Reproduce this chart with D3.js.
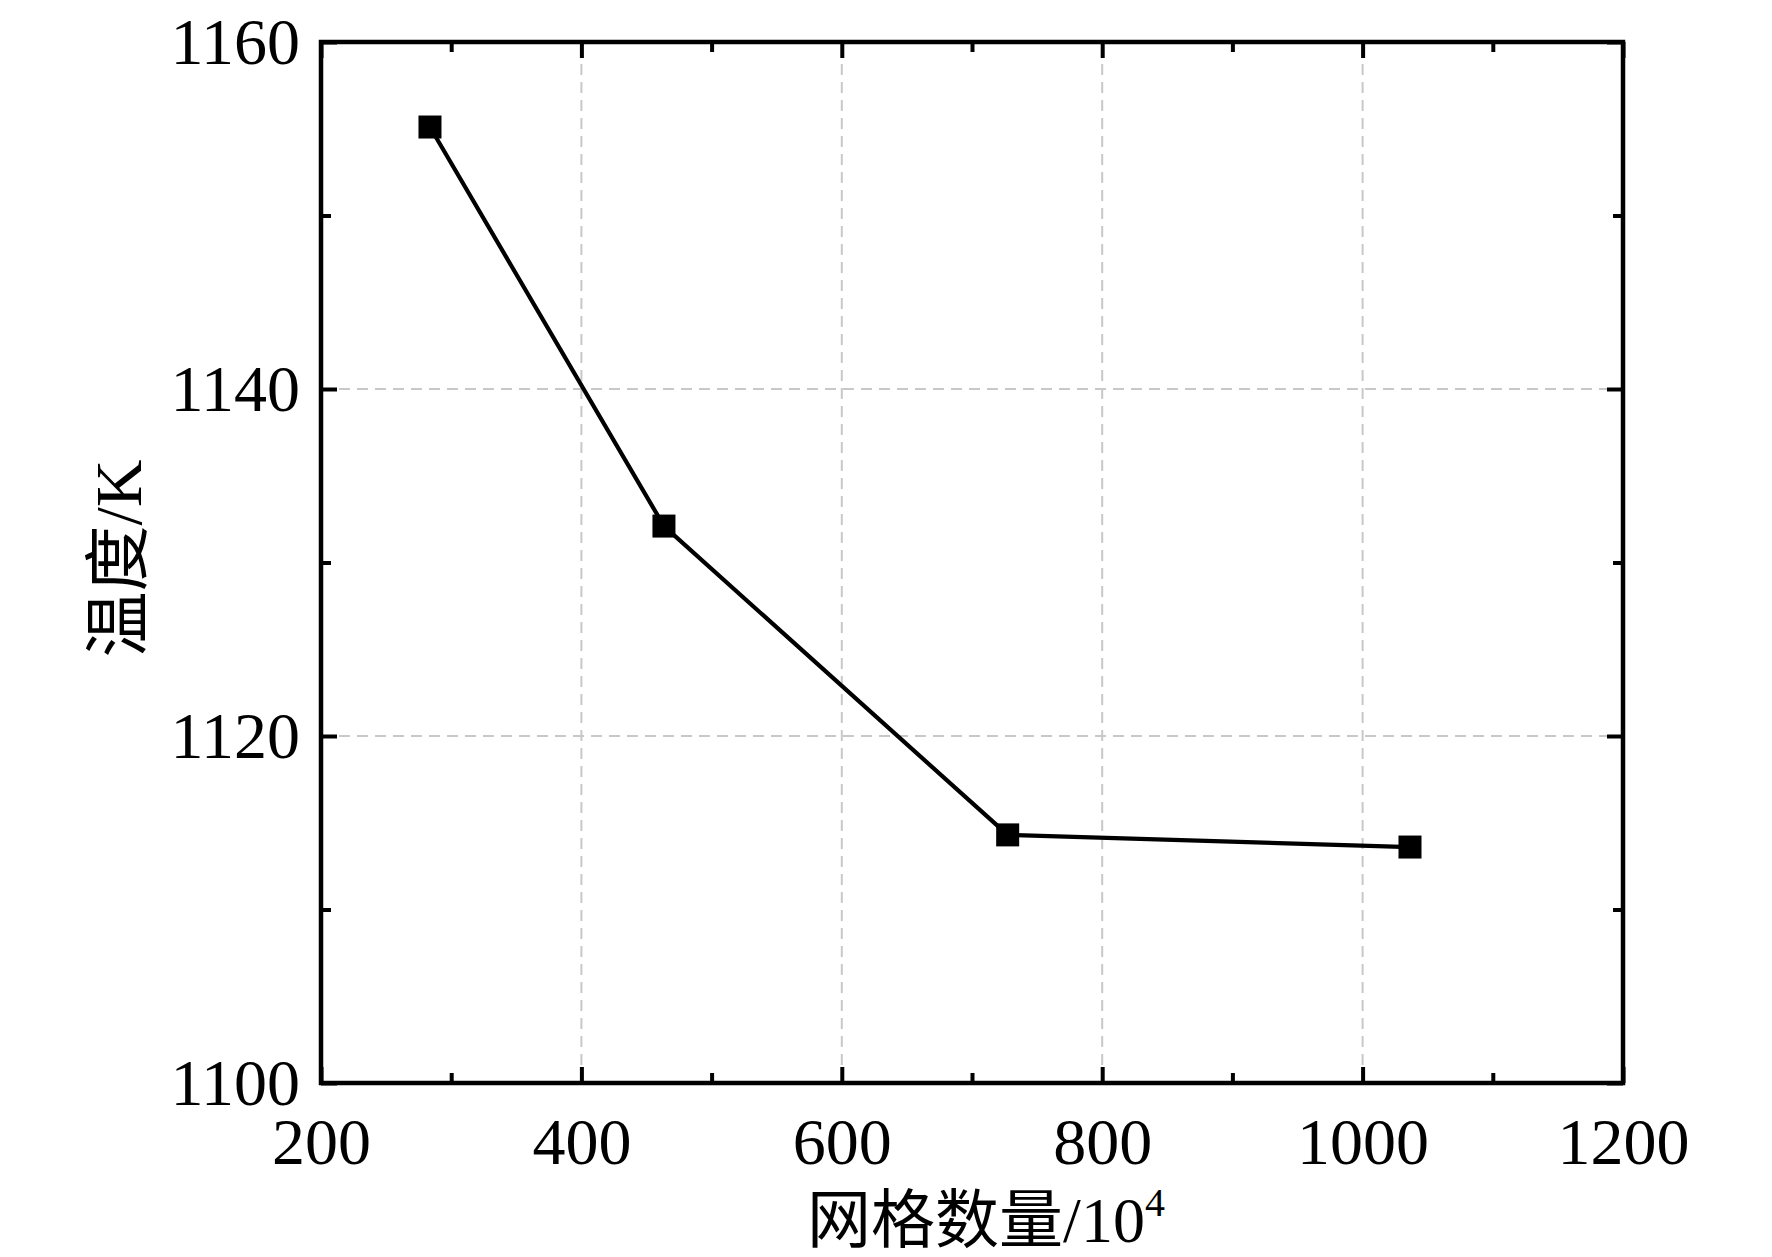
<!DOCTYPE html>
<html>
<head>
<meta charset="utf-8">
<script src="https://cdn.jsdelivr.net/npm/d3@7"></script>
<style>
  body { margin: 0; background: #fff; }
  text { font-family: "Liberation Serif", "Noto Sans CJK SC", serif; fill: #000; }
</style>
</head>
<body>
<script>
// data
var gridCounts = [283.7, 463.4, 727.4, 1036.4];      // 网格数量 / 10^4
var temperatures = [1155.1, 1132.1, 1114.3, 1113.6]; // 温度 / K

var xMajor = [200, 400, 600, 800, 1000, 1200];
var xMinor = [300, 500, 700, 900, 1100];
var yMajor = [1100, 1120, 1140, 1160];
var yMinor = [1110, 1130, 1150];

var width = 1772, height = 1257;
var margin = {left: 321, right: 1772 - 1623, top: 42, bottom: 1257 - 1083};

var svg = d3.select("body").append("svg")
    .attr("width", width)
    .attr("height", height);

var x = d3.scaleLinear().domain([200, 1200]).range([margin.left, width - margin.right]);
var y = d3.scaleLinear().domain([1100, 1160]).range([height - margin.bottom, margin.top]);

var majorLen = 16, minorLen = 10;

// dashed grid
svg.append("g").selectAll("line")
    .data(xMajor.slice(1, -1))
    .join("line")
    .attr("x1", d => x(d)).attr("x2", d => x(d))
    .attr("y1", y(1100)).attr("y2", y(1160))
    .attr("stroke", "#c8c8c8").attr("stroke-width", 2)
    .attr("stroke-dasharray", "11,7");

svg.append("g").selectAll("line")
    .data(yMajor.slice(1, -1))
    .join("line")
    .attr("y1", d => y(d)).attr("y2", d => y(d))
    .attr("x1", x(200)).attr("x2", x(1200))
    .attr("stroke", "#c8c8c8").attr("stroke-width", 2)
    .attr("stroke-dasharray", "11,7");

function styleAxis(g) {
  g.select(".domain").remove();
  g.selectAll(".tick line").attr("stroke", "#000").attr("stroke-width", 4);
  g.selectAll(".tick text").attr("font-size", 66).attr("fill", "#000");
}

// bottom axis with labels
svg.append("g")
    .attr("transform", "translate(0," + y(1100) + ")")
    .call(d3.axisBottom(x).tickValues(xMajor).tickSize(-majorLen).tickPadding(34).tickFormat(d3.format("d")))
    .call(styleAxis);
svg.append("g")
    .attr("transform", "translate(0," + y(1100) + ")")
    .call(d3.axisBottom(x).tickValues(xMinor).tickSize(-minorLen).tickFormat(""))
    .call(styleAxis);

// top axis, ticks only
svg.append("g")
    .attr("transform", "translate(0," + y(1160) + ")")
    .call(d3.axisTop(x).tickValues(xMajor).tickSize(-majorLen).tickFormat(""))
    .call(styleAxis);
svg.append("g")
    .attr("transform", "translate(0," + y(1160) + ")")
    .call(d3.axisTop(x).tickValues(xMinor).tickSize(-minorLen).tickFormat(""))
    .call(styleAxis);

// left axis with labels
svg.append("g")
    .attr("transform", "translate(" + x(200) + ",0)")
    .call(d3.axisLeft(y).tickValues(yMajor).tickSize(-majorLen).tickPadding(21).tickFormat(d3.format("d")))
    .call(styleAxis);
svg.append("g")
    .attr("transform", "translate(" + x(200) + ",0)")
    .call(d3.axisLeft(y).tickValues(yMinor).tickSize(-minorLen).tickFormat(""))
    .call(styleAxis);

// right axis, ticks only
svg.append("g")
    .attr("transform", "translate(" + x(1200) + ",0)")
    .call(d3.axisRight(y).tickValues(yMajor).tickSize(-majorLen).tickFormat(""))
    .call(styleAxis);
svg.append("g")
    .attr("transform", "translate(" + x(1200) + ",0)")
    .call(d3.axisRight(y).tickValues(yMinor).tickSize(-minorLen).tickFormat(""))
    .call(styleAxis);

// frame
svg.append("rect")
    .attr("x", x(200)).attr("y", y(1160))
    .attr("width", x(1200) - x(200)).attr("height", y(1100) - y(1160))
    .attr("fill", "none").attr("stroke", "#000").attr("stroke-width", 4.5);

// line + square markers
var points = gridCounts.map((g, i) => [g, temperatures[i]]);

svg.append("path")
    .datum(points)
    .attr("d", d3.line().x(d => x(d[0])).y(d => y(d[1])))
    .attr("fill", "none").attr("stroke", "#000").attr("stroke-width", 4.2);

var ms = 23;
svg.append("g").selectAll("rect")
    .data(points)
    .join("rect")
    .attr("x", d => x(d[0]) - ms / 2)
    .attr("y", d => y(d[1]) - ms / 2)
    .attr("width", ms).attr("height", ms)
    .attr("fill", "#000");

// axis titles
var xt = svg.append("text")
    .attr("x", (x(200) + x(1200)) / 2 + 14)
    .attr("y", 1242)
    .attr("text-anchor", "middle")
    .attr("font-size", 64);
xt.append("tspan").text("网格数量/10");
xt.append("tspan").attr("font-size", 40).attr("dy", -26).text("4");

svg.append("text")
    .attr("transform", "translate(141," + (y(1130) - 4) + ") rotate(-90)")
    .attr("text-anchor", "middle")
    .attr("font-size", 66)
    .text("温度/K");
</script>
</body>
</html>
